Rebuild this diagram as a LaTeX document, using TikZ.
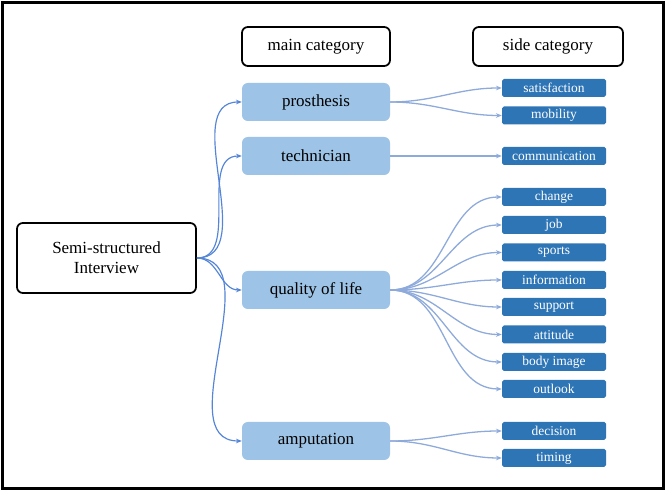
\documentclass[tikz,border=0pt]{standalone}
\usepackage{fontspec}
\setmainfont{Liberation Serif}
\usetikzlibrary{arrows.meta}
\definecolor{mainblue}{HTML}{9DC3E6}
\definecolor{sideblue}{HTML}{2E75B6}
\definecolor{rootline}{HTML}{5585D6}
\definecolor{sideline}{HTML}{8EAADB}
\tikzstyle{header}=[draw=black,line width=1.5pt,rounded corners=5pt,minimum width=4.44cm,minimum height=1.17cm,inner sep=0pt,font=\fontsize{14.5}{17}\selectfont]
\tikzstyle{start box}=[header,minimum width=5.37cm,minimum height=2.1cm,align=center]
\tikzstyle{main}=[fill=mainblue,rounded corners=5pt,minimum width=4.44cm,minimum height=1.14cm,inner sep=0pt,font=\fontsize{14.5}{17}\selectfont]
\tikzstyle{side}=[fill=sideblue,text=white,rounded corners=1.5pt,minimum width=3.12cm,minimum height=0.54cm,inner sep=0pt,font=\fontsize{11.5}{13}\selectfont]
\tikzstyle{main edge}=[draw,line width=1pt,rootline,-{Stealth[length=5pt,width=4pt]}]
\tikzstyle{side edge}=[draw,line width=1.1pt,sideline,-{Stealth[length=5pt,width=4pt]}]

\begin{document}
\begin{tikzpicture}
		\useasboundingbox (0,0) rectangle (19.98,14.73);
		\draw[line width=2.5pt] (0.075,0.075) rectangle (19.905,14.655);
		% headers and the interview
		\node[header] (maincat) at (9.48,13.335) {main category};
		\node[header,minimum width=4.5cm] (sidecat) at (16.44,13.335) {side category};
		\node[start box] (interview) at (3.195,6.99) {Semi-structured\\Interview};
		% main categories
		\node[main] (prosthesis) at (9.48,11.67) {prosthesis};
		\node[main] (technician) at (9.48,10.05) {technician};
		\node[main] (quality) at (9.48,6.03) {quality of life};
		\node[main] (amputation) at (9.48,1.5) {amputation};
		% side categories
		\node[side] (satisfaction) at (16.62,12.09) {satisfaction};
		\node[side] (mobility) at (16.62,11.265) {mobility};
		\node[side] (communication) at (16.62,10.05) {communication};
		\node[side] (change) at (16.62,8.82) {change};
		\node[side] (job) at (16.62,7.98) {job};
		\node[side] (sports) at (16.62,7.155) {sports};
		\node[side] (information) at (16.62,6.33) {information};
		\node[side] (support) at (16.62,5.52) {support};
		\node[side] (attitude) at (16.62,4.695) {attitude};
		\node[side] (bodyimage) at (16.62,3.87) {body image};
		\node[side] (outlook) at (16.62,3.06) {outlook};
		\node[side] (decision) at (16.62,1.8) {decision};
		\node[side] (timing) at (16.62,0.99) {timing};
		% Connect the interview with the main categories
		\foreach \dest in {prosthesis, technician, quality, amputation}
		\path[main edge] (interview.east) to[out=0,in=180] (\dest.west);
		% Connect main categories with side categories
		\foreach \source/ \dest in {prosthesis/satisfaction, prosthesis/mobility, technician/communication, quality/change, quality/job, quality/sports, quality/information, quality/support, quality/attitude, quality/bodyimage, quality/outlook, amputation/decision, amputation/timing}
		\path[side edge] (\source.east) to[out=0,in=180] (\dest.west);
\end{tikzpicture}
\end{document}
